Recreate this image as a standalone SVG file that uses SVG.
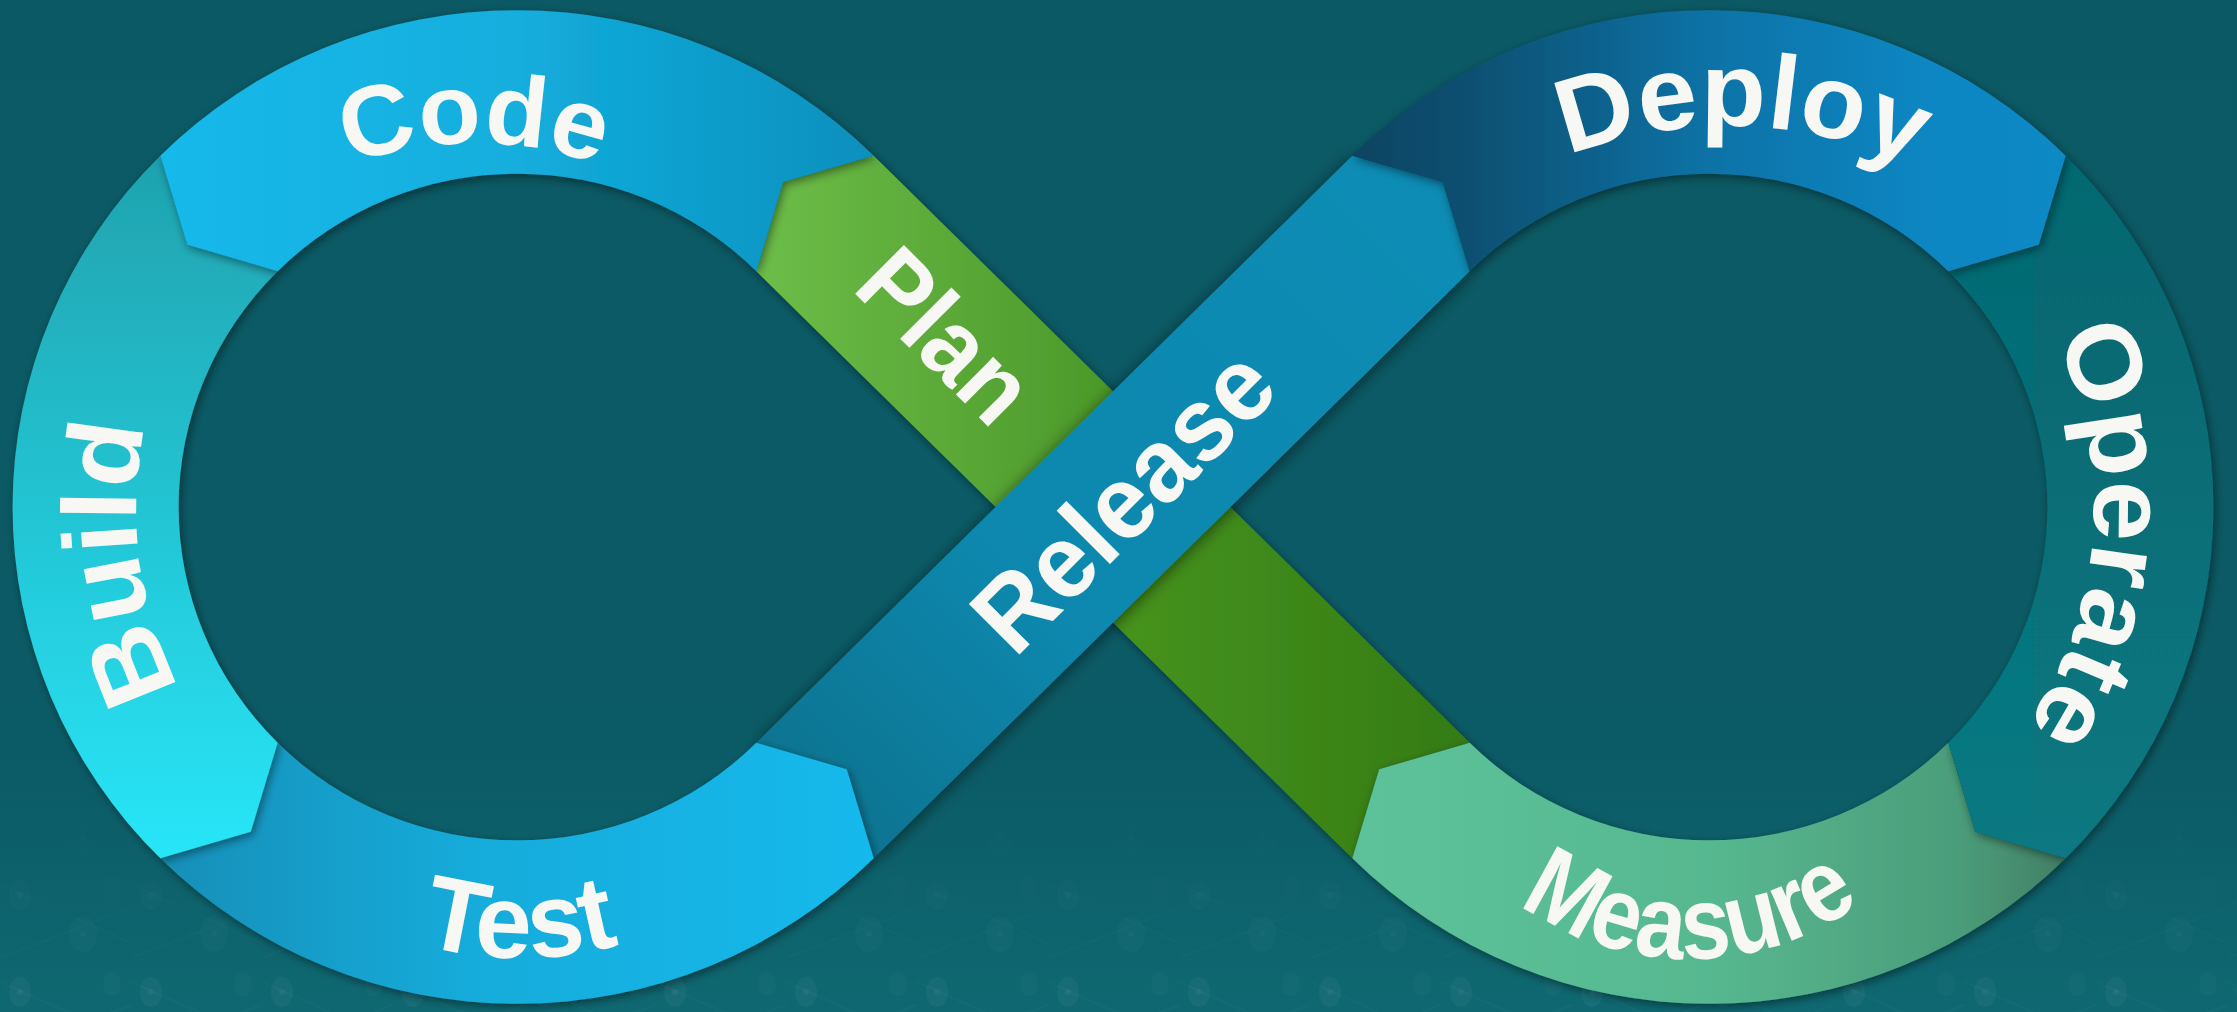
<svg xmlns="http://www.w3.org/2000/svg" width="2237" height="1012" viewBox="0 0 2237 1012">
<defs>
<style>
.lbl{font-family:"Liberation Sans",Arial,"Noto Sans",sans-serif;font-weight:bold;fill:#f7f7f3;}
.seg{filter:url(#sh);}
</style>
<filter id="sh" x="-20%" y="-20%" width="140%" height="140%">
<feDropShadow dx="2" dy="3" stdDeviation="5" flood-color="#000" flood-opacity="0.45"/>
</filter>
<filter id="sh2" x="-20%" y="-20%" width="140%" height="140%">
<feDropShadow dx="0" dy="3" stdDeviation="8" flood-color="#000" flood-opacity="0.55"/>
</filter>
<linearGradient id="bg" x1="0" y1="0" x2="0" y2="1">
<stop offset="0" stop-color="#0b5964"/>
<stop offset="0.75" stop-color="#0b5b66"/>
<stop offset="1" stop-color="#0f6871"/>
</linearGradient>
<linearGradient id="fade" x1="0" y1="0" x2="0" y2="1">
<stop offset="0" stop-color="#fff" stop-opacity="0"/>
<stop offset="1" stop-color="#fff" stop-opacity="0.8"/>
</linearGradient>
<mask id="bm"><rect x="0" y="800" width="2237" height="212" fill="url(#fade)"/></mask>
<pattern id="bok" width="131" height="97" patternUnits="userSpaceOnUse">
<ellipse cx="20" cy="22" rx="11" ry="15" fill="#fff" fill-opacity="0.05"/>
<ellipse cx="83" cy="61" rx="14" ry="18" fill="#fff" fill-opacity="0.04"/>
<ellipse cx="112" cy="14" rx="9" ry="12" fill="#fff" fill-opacity="0.035"/>
<circle cx="20" cy="22" r="3" fill="#fff" fill-opacity="0.06"/>
<circle cx="83" cy="61" r="3" fill="#fff" fill-opacity="0.05"/>
<path d="M0 85 L131 35 M0 12 L131 70" stroke="#fff" stroke-opacity="0.03" stroke-width="2"/>
</pattern>
<linearGradient id="gCode" gradientUnits="userSpaceOnUse" x1="160" y1="0" x2="874" y2="0">
<stop offset="0" stop-color="#14b9eb"/><stop offset="0.5" stop-color="#12aedd"/><stop offset="1" stop-color="#0e8fbd"/>
</linearGradient>
<linearGradient id="gBuild" gradientUnits="userSpaceOnUse" x1="0" y1="150" x2="0" y2="864">
<stop offset="0" stop-color="#1fa2ae"/><stop offset="1" stop-color="#28e6f8"/>
</linearGradient>
<linearGradient id="gTest" gradientUnits="userSpaceOnUse" x1="160" y1="0" x2="874" y2="0">
<stop offset="0" stop-color="#168fb8"/><stop offset="0.45" stop-color="#14acdb"/><stop offset="1" stop-color="#13b9ec"/>
</linearGradient>
<linearGradient id="gRel" gradientUnits="userSpaceOnUse" x1="815" y1="805" x2="1411" y2="209">
<stop offset="0" stop-color="#0d7491"/><stop offset="0.35" stop-color="#0f87ad"/><stop offset="1" stop-color="#0f8cb5"/>
</linearGradient>
<linearGradient id="gDep" gradientUnits="userSpaceOnUse" x1="1352" y1="0" x2="2066" y2="0">
<stop offset="0" stop-color="#0a4362"/><stop offset="0.18" stop-color="#0a5173"/><stop offset="0.5" stop-color="#0b72a6"/><stop offset="0.8" stop-color="#0b86c2"/><stop offset="1" stop-color="#0b89c6"/>
</linearGradient>
<linearGradient id="gOp" gradientUnits="userSpaceOnUse" x1="0" y1="150" x2="0" y2="864">
<stop offset="0" stop-color="#066871"/><stop offset="1" stop-color="#077881"/>
</linearGradient>
<linearGradient id="gMea" gradientUnits="userSpaceOnUse" x1="1352" y1="0" x2="2066" y2="0">
<stop offset="0" stop-color="#5cc29a"/><stop offset="0.5" stop-color="#57b890"/><stop offset="0.85" stop-color="#4b9d7a"/><stop offset="1" stop-color="#427f65"/>
</linearGradient>
<linearGradient id="gPlan" gradientUnits="userSpaceOnUse" x1="756" y1="0" x2="1470" y2="0">
<stop offset="0" stop-color="#6dbd49"/><stop offset="0.49" stop-color="#4c992a"/><stop offset="0.51" stop-color="#46931f"/><stop offset="1" stop-color="#347b13"/>
</linearGradient>
<path id="pCode" d="M 153.6,328 A 370 370 0 0 1 794.4,328"/>
<path id="pBuild" d="M 248.2,780.8 A 383 383 0 0 1 248.2,239.2"/>
<path id="pTest" d="M 190.9,768 A 380 380 0 0 0 849.1,768"/>
<path id="pRel" d="M 840,834 L 1440,234"/>
<path id="pPlan" d="M 721.5,160 L 1121.5,560"/>
<path id="pDep" d="M 1329.2,380 A 440 440 0 0 1 2126.8,380"/>
<path id="pOp" d="M 1980.6,233.4 A 387 387 0 0 1 1980.6,780.6"/>
<path id="pMea" d="M 1438.9,814 A 290 290 0 0 0 1941.1,814"/>
</defs>

<rect x="0" y="0" width="2237" height="1012" fill="url(#bg)"/>
<rect x="0" y="800" width="2237" height="212" fill="url(#bok)" mask="url(#bm)"/>

<g id="connectors"></g>

<g id="plan">
<path class="seg" fill="url(#gPlan)" transform="matrix(1 0 0 0.985 0 7.6)" d="M 1352.33,863.67 L 756.29,267.71 L 783.18,177.18 L 873.67,150.33 L 1469.71,746.29 L 1379.18,773.18 Z"/>
<text class="lbl" font-size="100" text-anchor="middle"><textPath href="#pPlan" startOffset="50%" textLength="200" lengthAdjust="spacingAndGlyphs">Plan</textPath></text>
</g>

<g id="release">
<path fill="url(#gRel)" style="filter:url(#sh2)" transform="matrix(1 0 0 0.985 0 7.6)" d="M 873.67,863.67 L 1469.71,267.71 L 1442.82,177.18 L 1352.33,150.33 L 756.29,746.29 L 846.82,773.18 Z"/>
<text class="lbl" font-size="104" text-anchor="middle"><textPath href="#pRel" startOffset="51.4%" textLength="378" lengthAdjust="spacingAndGlyphs">Release</textPath></text>
</g>

<g id="test">
<path class="seg" fill="url(#gTest)" transform="matrix(1 0 0 0.985 0 7.6)" d="M 160.33,863.67 A 504.4 504.4 0 0 0 873.67,863.67 L 846.82,773.18 L 756.29,746.29 A 338.4 338.4 0 0 1 277.71,746.29 L 250.82,836.82 Z"/>
<text class="lbl" font-size="105" text-anchor="middle"><textPath href="#pTest" startOffset="50%" textLength="202" lengthAdjust="spacingAndGlyphs">Test</textPath></text>
</g>

<g id="build">
<path class="seg" fill="url(#gBuild)" transform="matrix(1 0 0 0.985 0 7.6)" d="M 160.33,150.33 A 504.4 504.4 0 0 0 160.33,863.67 L 250.82,836.82 L 277.71,746.29 A 338.4 338.4 0 0 1 277.71,267.71 L 187.18,240.82 Z"/>
<text class="lbl" font-size="105" text-anchor="middle"><textPath href="#pBuild" startOffset="41.7%" textLength="270" lengthAdjust="spacingAndGlyphs">Build</textPath></text>
</g>

<g id="code">
<path class="seg" fill="url(#gCode)" transform="matrix(1 0 0 0.985 0 7.6)" d="M 873.67,150.33 A 504.4 504.4 0 0 0 160.33,150.33 L 187.18,240.82 L 277.71,267.71 A 338.4 338.4 0 0 1 756.29,267.71 L 783.18,177.18 Z"/>
<text class="lbl" font-size="100" text-anchor="middle"><textPath href="#pCode" startOffset="50%" textLength="255" lengthAdjust="spacingAndGlyphs">Code</textPath></text>
</g>

<g id="measure">
<path class="seg" fill="url(#gMea)" transform="matrix(1 0 0 0.985 0 7.6)" d="M 2065.67,863.67 A 504.4 504.4 0 0 1 1352.33,863.67 L 1379.18,773.18 L 1469.71,746.29 A 338.4 338.4 0 0 0 1948.29,746.29 L 1975.18,836.82 Z"/>
<text class="lbl" font-size="103" text-anchor="middle"><textPath href="#pMea" startOffset="50%" textLength="365" lengthAdjust="spacingAndGlyphs">Measure</textPath></text>
</g>

<g id="operate">
<path class="seg" fill="url(#gOp)" transform="matrix(1 0 0 0.985 0 7.6)" d="M 2065.67,150.33 A 504.4 504.4 0 0 1 2065.67,863.67 L 1975.18,836.82 L 1948.29,746.29 A 338.4 338.4 0 0 0 1948.29,267.71 L 2038.82,240.82 Z"/>
<text class="lbl" font-size="105" text-anchor="middle"><textPath href="#pOp" startOffset="54.6%" textLength="410" lengthAdjust="spacingAndGlyphs">Operate</textPath></text>
</g>

<g id="deploy">
<path class="seg" fill="url(#gDep)" transform="matrix(1 0 0 0.985 0 7.6)" d="M 1352.33,150.33 A 504.4 504.4 0 0 1 2065.67,150.33 L 2038.82,240.82 L 1948.29,267.71 A 338.4 338.4 0 0 0 1469.71,267.71 L 1442.82,177.18 Z"/>
<text class="lbl" font-size="105" text-anchor="middle"><textPath href="#pDep" startOffset="51.4%" textLength="355" lengthAdjust="spacingAndGlyphs">Deploy</textPath></text>
</g>
</svg>
